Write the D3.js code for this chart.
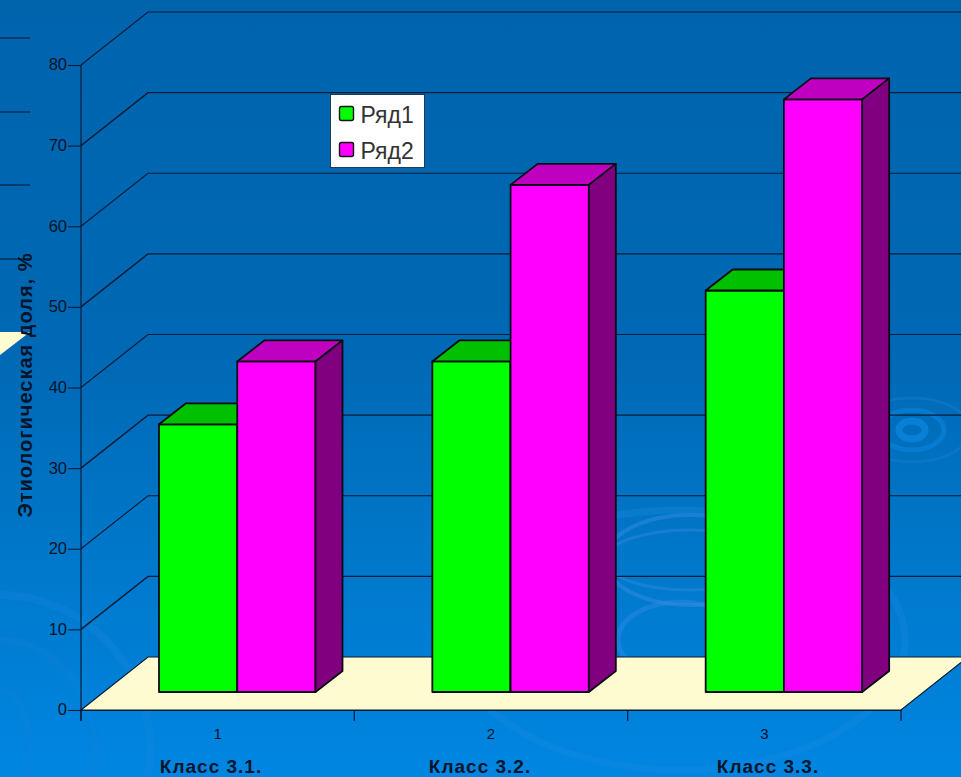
<!DOCTYPE html>
<html><head><meta charset="utf-8">
<style>html,body{margin:0;padding:0;overflow:hidden;background:#0070bd}svg{display:block}text{font-family:"Liberation Sans",Arial,sans-serif}</style>
<script src="https://cdn.jsdelivr.net/npm/d3@7"></script>
</head><body><svg id="c" width="961" height="777"></svg>
<script>
const categories = ["1","2","3"];
const classLabels = ["Класс 3.1.","Класс 3.2.","Класс 3.3."];
const seriesNames = ["Ряд1","Ряд2"];
const series1 = [33.2, 41, 49.8];
const series2 = [41, 62.9, 73.5];
const yTicks = [0,10,20,30,40,50,60,70,80];
const axisTitle = "Этиологическая доля, %";

const W=961,H=777;
const svg=d3.select("#c");
const defs=svg.append("defs");
const g=defs.append("linearGradient").attr("id","bg").attr("x1",0).attr("x2",0).attr("y1",0).attr("y2",1);
[[0,"#0064ad"],[0.45,"#0068b4"],[0.72,"#0078ca"],[1,"#0086e2"]].forEach(d=>g.append("stop").attr("offset",d[0]).attr("stop-color",d[1]));
svg.append("rect").attr("width",W).attr("height",H).attr("fill","url(#bg)");

// background ripples
const rip=svg.append("g").attr("fill","none");
function ripple(cx,cy,list){list.forEach(([rx,ry,sw,col,op])=>rip.append("ellipse").attr("cx",cx).attr("cy",cy).attr("rx",rx).attr("ry",ry).attr("stroke",col).attr("stroke-width",sw).attr("stroke-opacity",op));}
ripple(912,430,[[13,9,7,"#0a84dc",.8],[32,20,5,"#0a84dc",.6],[58,32,3,"#1a80d0",.4]]);
ripple(680,640,[[62,38,5,"#2a8ae0",.5],[225,130,7,"#1a8ae0",.35]]);
ripple(690,560,[[85,45,4,"#3a8ee0",.45],[85,30,3,"#3a8ee0",.4]]);
ripple(0,750,[[30,60,7,"#1a84d8",.2],[95,110,7,"#1a84d8",.2],[150,155,8,"#1a88e0",.28]]);

const x0=81,x1=901,dxW=67,dyW=-53,dxB=27,dyB=-21,base=692;
const y=d3.scaleLinear().domain([0,80]).range([710,65]);
const x=d3.scaleBand().domain(categories).range([x0,x1]);
const bar=d3.scaleBand().domain(seriesNames).range([0,156.5]);
const barOffset=78;
const hVal=d3.scaleLinear().domain([0,80]).range([0,y(0)-y(80)]);

const ink="#041c36";
// stubs of the ghost chart at the left edge
svg.append("g").selectAll("line").data([38,112,185,259]).join("line")
 .attr("x1",0).attr("x2",30).attr("y1",d=>d).attr("y2",d=>d).attr("stroke",ink).attr("stroke-width",1.1);
svg.append("path").attr("d","M0,332H30L0,355Z").attr("fill","#fffbd0");

// floor
svg.append("path").attr("d",`M${x0},${y(0)}L${x0+dxW},${y(0)+dyW}H${x1+dxW}L${x1},${y(0)}Z`)
 .attr("fill","#fffbd0").attr("stroke",ink).attr("stroke-width",1.2);
// gridlines
svg.append("g").selectAll("path").data(yTicks.filter(d=>d>0)).join("path").attr("fill","none")
 .attr("d",d=>`M${x0},${y(d)}L${x0+dxW},${y(d)+dyW}H${W+10}`).attr("stroke",ink).attr("stroke-width",d=>d%20?1.4:1.1);

// axes
const ax=svg.append("g").attr("transform",`translate(${x0},0)`)
 .call(d3.axisLeft(y).tickValues(yTicks).tickSize(14).tickPadding(0));
ax.select(".domain").remove();
ax.selectAll("line").attr("stroke",ink).attr("x2",-13).attr("stroke-width",1.1);
ax.selectAll("text").attr("font-size",16.5).attr("fill","#03142a").attr("font-family","Liberation Sans").attr("dy","0.3em");
svg.append("line").attr("x1",x0).attr("x2",x0).attr("y1",y(80)).attr("y2",721).attr("stroke",ink).attr("stroke-width",1.2);
const bx=svg.append("g").attr("transform",`translate(0,${y(0)})`)
 .call(d3.axisBottom(x).tickSize(0).tickPadding(18));
bx.select(".domain").attr("stroke",ink).attr("stroke-width",1.2);
bx.selectAll("text").attr("font-size",15).attr("fill","#03142a").attr("font-family","Liberation Sans")
  .attr("dy","0.75em");
svg.append("g").selectAll("line").data([...categories.map(c=>x(c)),x1]).join("line")
 .attr("x1",d=>d).attr("x2",d=>d).attr("y1",y(0)).attr("y2",721).attr("stroke",ink).attr("stroke-width",1.2);

// 3D bars
const palette={ "Ряд1":["#00ff00","#00c000","#008000"], "Ряд2":["#ff00ff","#c000c0","#800080"] };
const values={ "Ряд1":series1, "Ряд2":series2 };
const barsG=svg.append("g").attr("stroke","#0c0c16").attr("stroke-width",1.8).attr("stroke-linejoin","round");
categories.forEach((c,i)=>{
  seriesNames.forEach(s=>{
    const v=values[s][i], L=x(c)+barOffset+bar(s), w=bar.bandwidth(), T=base-hVal(v), R=L+w, col=palette[s];
    barsG.append("rect").attr("x",L).attr("y",T).attr("width",w).attr("height",base-T).attr("fill",col[0]);
    barsG.append("path").attr("d",`M${L},${T}L${L+dxB},${T+dyB}H${R+dxB}L${R},${T}Z`).attr("fill",col[1]);
    barsG.append("path").attr("d",`M${R},${T}L${R+dxB},${T+dyB}V${base+dyB}L${R},${base}Z`).attr("fill",col[2]);
  });
});

// labels
svg.append("text").attr("transform","translate(32,385) rotate(-90)").attr("text-anchor","middle")
 .attr("font-size",20).attr("letter-spacing",1).attr("font-weight","bold").attr("fill","#03152b").text(axisTitle);
svg.append("g").selectAll("text").data(classLabels).join("text")
 .attr("x",(d,i)=>[211,480,768][i]).attr("y",773).attr("text-anchor","middle")
 .attr("font-size",19).attr("letter-spacing",1).attr("font-weight","bold").attr("fill","#03152b").text(d=>d);

// legend
const lg=svg.append("g").attr("transform","translate(330,94)");
lg.append("rect").attr("x",.5).attr("y",.5).attr("width",94).attr("height",73).attr("fill","#fff").attr("stroke","#1c3c5c").attr("stroke-width",1);
seriesNames.forEach((s,i)=>{
  const row=lg.append("g").attr("transform",`translate(0,${i*36})`);
  row.append("rect").attr("x",9.5).attr("y",12.5).attr("width",14).attr("height",14).attr("rx",2).attr("fill",palette[s][0]).attr("stroke","#111").attr("stroke-width",1.4);
  row.append("text").attr("x",30.5).attr("y",29).attr("font-size",23).attr("fill","#333").text(s);
});
</script></body></html>
